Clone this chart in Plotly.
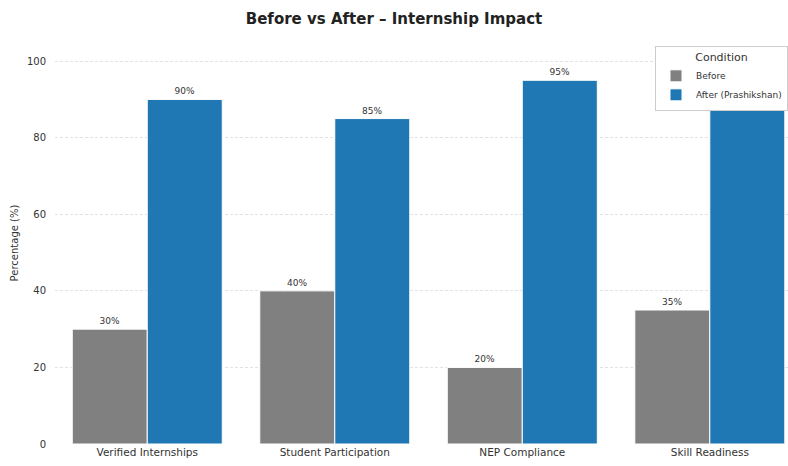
import plotly.graph_objects as go

categories = ["Verified Internships", "Student Participation", "NEP Compliance", "Skill Readiness"]
before_vals = [30, 40, 20, 35]
after_vals = [90, 85, 95, 90]
series_names = ["Before", "After (Prashikshan)"]

fig = go.Figure()
fig.add_trace(go.Bar(
    x=categories, y=before_vals, name=series_names[0],
    marker=dict(color="#808080", line=dict(color="white", width=1)),
    text=[f"{v}%" for v in before_vals], textposition="outside",
    textfont=dict(size=9, color="#333333"), cliponaxis=False,
))
fig.add_trace(go.Bar(
    x=categories, y=after_vals, name=series_names[1],
    marker=dict(color="#1f77b4", line=dict(color="white", width=1)),
    text=[f"{v}%" for v in after_vals], textposition="outside",
    textfont=dict(size=9, color="#333333"), cliponaxis=False,
))

fig.update_layout(
    width=788, height=466,
    margin=dict(l=55, r=0, t=42, b=22),
    paper_bgcolor="white", plot_bgcolor="white",
    font=dict(family="DejaVu Sans", size=10, color="#333333"),
    title=dict(text="<b>Before vs After – Internship Impact</b>", x=0.5, xanchor="center",
               y=0.96, yanchor="middle", font=dict(size=15, color="#222222")),
    barmode="group", bargap=0.2, bargroupgap=0,
    showlegend=True,
    legend=dict(
        title=dict(text="Condition", side="top center", font=dict(size=11, color="#333333")),
        x=1.0, xanchor="right", y=0.99, yanchor="top",
        bgcolor="white", bordercolor="#cccccc", borderwidth=1,
        font=dict(size=9, color="#333333"),
        itemwidth=30, tracegroupgap=0,
    ),
    xaxis=dict(range=[-0.492, 3.417], showgrid=False, showline=False, zeroline=False,
               ticks="", tickfont=dict(size=10.5, color="#333333")),
    yaxis=dict(range=[0, 105], tickvals=[0, 20, 40, 60, 80, 100],
               showgrid=True, gridcolor="#e2e2e2", griddash="3px,2px", gridwidth=1,
               zeroline=False, showline=False, ticks="outside", ticklen=6, tickcolor="white",
               tickfont=dict(size=10, color="#333333"),
               title=dict(text="Percentage (%)", font=dict(size=10, color="#333333"), standoff=6)),
)

fig.write_html("out.html")
